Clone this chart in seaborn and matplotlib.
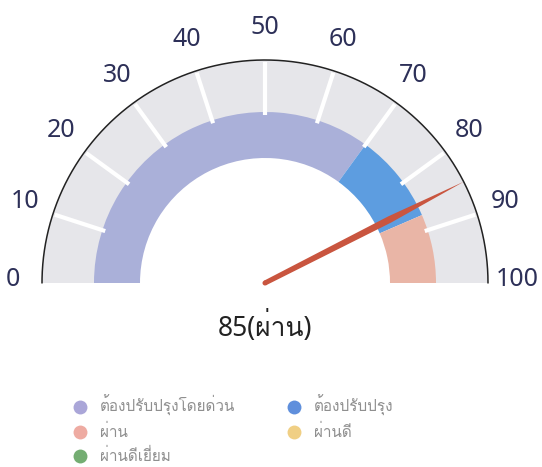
import numpy as np
import matplotlib
matplotlib.use("Agg")
import matplotlib.pyplot as plt
from matplotlib.patches import Wedge, Polygon, Circle
from matplotlib.lines import Line2D
from matplotlib import font_manager
from matplotlib.ft2font import FT2Font
import seaborn as sns

# gauge data
value = 85
value_label = "ผ่าน"
tick_values = [0, 10, 20, 30, 40, 50, 60, 70, 80, 90, 100]
band_start = [0, 70, 87]
band_end = [70, 87, 100]
band_colors = ["#aab0d9", "#5d9de0", "#e9b5a6"]

legend_names = ["ต้องปรับปรุงโดยด่วน", "ต้องปรับปรุง", "ผ่าน", "ผ่านดี", "ผ่านดีเยี่ยม"]
legend_colors = ["#aaa6d8", "#5f8fdc", "#eeaba2", "#f0cf84", "#74ad72"]

sns.set_theme(style="white")

# find a font that has thai glyphs
thai_font = None
for f in font_manager.fontManager.ttflist:
    try:
        if ord("ผ") in FT2Font(f.fname).get_charmap():
            thai_font = f.name
            break
    except Exception:
        pass
fams = [thai_font, "Noto Sans", "DejaVu Sans"] if thai_font else ["Noto Sans", "DejaVu Sans"]
num_fams = ["Noto Sans"] + ([thai_font] if thai_font else []) + ["DejaVu Sans"]
plt.rcParams["font.family"] = fams

W, H = 542, 467
fig = plt.figure(figsize=(W / 100, H / 100), dpi=100)
ax = fig.add_axes([0, 0, 1, 1])
ax.set_xlim(0, W)
ax.set_ylim(0, H)
ax.axis("off")

cx, cy = 265, H - 283
r_out, r_mid, r_in = 223, 170, 125


def ang(v):
    return 180 - v * 1.8


# gray outer band
ax.add_patch(Wedge((cx, cy), r_out, 0, 180, width=r_out - r_mid, color="#e6e6ea", lw=0))
# colored bands
for s, e, c in zip(band_start, band_end, band_colors):
    ax.add_patch(Wedge((cx, cy), r_mid + 1, ang(e), ang(s), width=r_mid + 1 - r_in, color=c, lw=0))

# outer arc
t = np.radians(np.linspace(0, 180, 300))
ax.plot(cx + r_out * np.cos(t), cy + r_out * np.sin(t), color="#222222", lw=1.1)

# white split lines and labels
for v in tick_values:
    a = np.radians(ang(v))
    if 0 < v < 100:
        ax.plot([cx + (r_mid - 2) * np.cos(a), cx + (r_out - 2) * np.cos(a)],
                [cy + (r_mid - 2) * np.sin(a), cy + (r_out - 2) * np.sin(a)],
                color="white", lw=3, solid_capstyle="butt")
    ax.text(cx + 252 * np.cos(a), cy + 4 + 252 * np.sin(a), str(v),
            ha="center", va="center", fontsize=18, color="#2d3058", family=num_fams)

# needle
a = np.radians(ang(value))
d = np.array([np.cos(a), np.sin(a)])
n = np.array([-np.sin(a), np.cos(a)])
c0 = np.array([cx, cy])
pts = [c0 + 2.5 * n, c0 + 140 * d + 3.4 * n, c0 + r_out * d,
       c0 + 140 * d - 3.4 * n, c0 - 2.5 * n]
ax.add_patch(Polygon(pts, closed=True, color="#c9553f", lw=0))
ax.add_patch(Circle((cx, cy), 2.5, color="#c9553f", lw=0))

# value text
ax.text(cx, H - 327, f"{value}({value_label})", ha="center", va="center",
        fontsize=19, color="#222222", family=num_fams)

# legend (column-major order for ncol=2)
order = [0, 2, 4, 1, 3]
handles = [Line2D([], [], marker="o", ls="", markersize=10, markerfacecolor=legend_colors[i],
                  markeredgewidth=0, label=legend_names[i]) for i in order]
leg = ax.legend(handles=handles, ncol=2, loc="upper left", bbox_to_anchor=(59 / W, 1 - 389 / H),
                frameon=False, fontsize=11, handletextpad=0.3, columnspacing=2.8,
                labelspacing=0.5, borderaxespad=0)
for txt in leg.get_texts():
    txt.set_color("#8f8f8f")

fig.savefig("out.png", dpi=100)
